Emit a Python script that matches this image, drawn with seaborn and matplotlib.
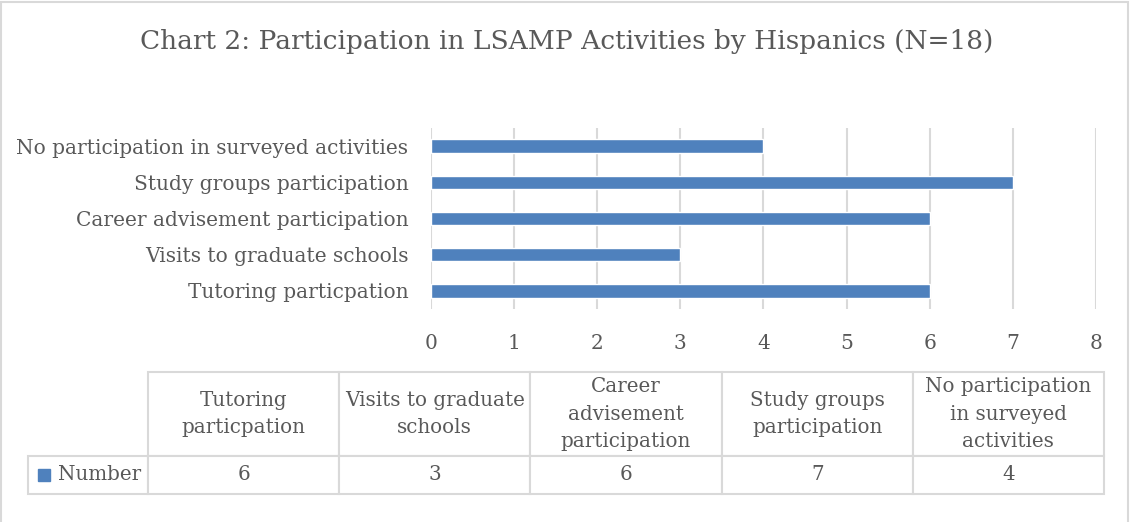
import matplotlib
matplotlib.use("Agg")
import matplotlib.pyplot as plt
import matplotlib.patches as patches
import seaborn as sns
import pandas as pd

# Datos del grafico
categorias = ["Tutoring particpation", "Visits to graduate schools",
              "Career advisement participation", "Study groups participation",
              "No participation in surveyed activities"]
etiquetas_tabla = ["Tutoring\nparticpation", "Visits to graduate\nschools",
                   "Career\nadvisement\nparticipation", "Study groups\nparticipation",
                   "No participation\nin surveyed\nactivities"]
valores = [6, 3, 6, 7, 4]
serie = "Number"
titulo = "Chart 2: Participation in LSAMP Activities by Hispanics (N=18)"

azul = "#4F81BD"
gris = "#595959"
gris_claro = "#D9D9D9"

sns.set_style("white")
plt.rcParams["font.family"] = ["DejaVu Serif", "DejaVu Sans"]

datos = pd.DataFrame({"actividad": categorias, "numero": valores})

W, H = 1133, 522
fig = plt.figure(figsize=(W / 100, H / 100), dpi=100)

# Ejes del grafico de barras (en pixeles -> fracciones)
x0, x1, y0, y1 = 430.7, 1096, 128, 309
ax = fig.add_axes([x0 / W, 1 - y1 / H, (x1 - x0) / W, (y1 - y0) / H])
sns.barplot(data=datos, x="numero", y="actividad", order=categorias[::-1],
            orient="h", color=azul, saturation=1, width=0.37, ax=ax, zorder=3)
ax.set_xlim(0, 8)
ax.set_xticks(range(0, 9))
ax.grid(axis="x", color=gris_claro, linewidth=1.5, zorder=0)
ax.set_axisbelow(True)
for s in ax.spines.values():
    s.set_visible(False)
ax.set_xlabel("")
ax.set_ylabel("")
ax.tick_params(axis="x", length=0, pad=18, labelsize=14.5, labelcolor=gris)
ax.tick_params(axis="y", length=0, pad=16, labelsize=14.5, labelcolor=gris)

fig.text(0.5, 1 - 42 / H, titulo, ha="center", va="center", fontsize=19, color=gris)

# Tabla de datos (los ejes cubren solo las columnas de datos)
tx0, tx1, ty0, ty1 = 148, 1104, 372, 494
ancho = tx1 - tx0
alto = ty1 - ty0
ancho_etiqueta = 120 / ancho
tax = fig.add_axes([tx0 / W, 1 - ty1 / H, ancho / W, alto / H])
tax.axis("off")
tabla = tax.table(cellText=[[str(v) for v in valores]], rowLabels=[serie],
                  colLabels=etiquetas_tabla, cellLoc="center", rowLoc="right",
                  bbox=[0, 0, 1, 1])
tabla._autoColumns = []  # ancho fijo para la columna de etiquetas
tabla.auto_set_font_size(False)
for (r, c), cell in tabla.get_celld().items():
    cell.set_edgecolor(gris_claro)
    cell.set_linewidth(1.5)
    cell.get_text().set_color(gris)
    cell.get_text().set_fontsize(14.3)
    cell.get_text().set_linespacing(1.55)
    cell.set_width(ancho_etiqueta if c == -1 else 1 / 5)
    cell.set_height((84 if r == 0 else 38) / alto)
    if c == -1:
        cell.PAD = 0.06

# Cuadrado de leyenda
fig.patches.append(patches.Rectangle((38 / W, 1 - 481 / H), 12 / W, 12 / H,
                                     transform=fig.transFigure, color=azul))

# Borde del area del grafico
fig.patches.append(patches.Rectangle((1 / W, -0.01), 1127 / W, 1.01 - 1.5 / H,
                                     transform=fig.transFigure, fill=False,
                                     edgecolor=gris_claro, linewidth=1.5))

fig.savefig("out.png", dpi=100)
